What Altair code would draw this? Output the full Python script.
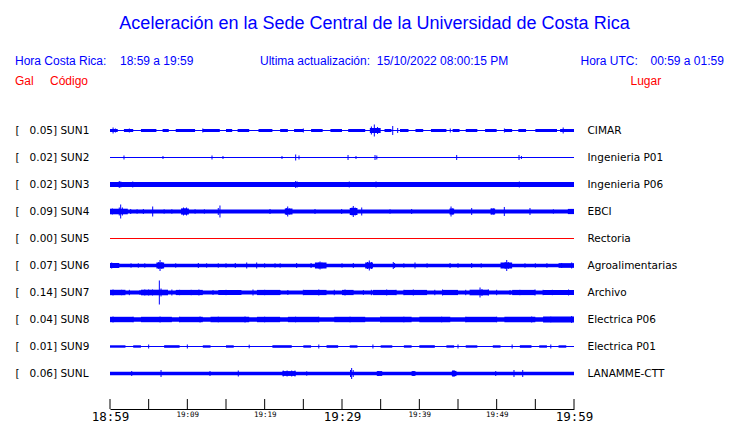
import json
import pandas as pd
import altair as alt

# ---------------- data ----------------
codes = ["SUN1", "SUN2", "SUN3", "SUN4", "SUN5", "SUN6", "SUN7", "SUN8", "SUN9", "SUNL"]
peak_gal = ["0.05", "0.02", "0.02", "0.09", "0.00", "0.07", "0.14", "0.04", "0.01", "0.06"]
places = ["CIMAR", "Ingenieria P01", "Ingenieria P06", "EBCI", "Rectoria",
          "Agroalimentarias", "Archivo", "Electrica P06", "Electrica P01", "LANAMME-CTT"]

# background half-amplitude of each trace (display units)
base_amp = [0.6, 0.5, 2.5, 2.0, 0.5, 1.7, 2.0, 2.3, 0.5, 1.7]

# bursts: [start minute, end minute, half-amplitude]
bursts_sun1 = [[0, 1.0, 1.5], [1.8, 3.0, 1.5], [4.0, 6.0, 1.5], [6.8, 7.6, 1.5], [8.5, 11.0, 1.5],
               [12.0, 14.2, 1.5], [15.0, 15.8, 1.5], [16.5, 18.0, 1.5], [19.2, 21.0, 1.5],
               [22.0, 23.0, 1.5], [23.8, 25.0, 1.5], [26.0, 27.5, 1.5], [28.5, 30.0, 1.5],
               [30.8, 33.0, 1.5], [33.6, 35.0, 2.5], [35.5, 36.4, 1.5], [37.5, 38.6, 1.5],
               [39.5, 40.5, 1.5], [41.5, 43.5, 1.5], [44.3, 45.2, 1.5], [46.0, 47.5, 1.5],
               [48.5, 50.0, 1.5], [51.0, 52.0, 1.5], [52.8, 53.8, 1.5], [55.0, 57.8, 1.5],
               [58.2, 60.0, 1.5]]
bursts_sun4 = [[0, 2.3, 2.8], [9.2, 10.2, 3.0], [22.6, 23.6, 3.0], [31.0, 32.0, 3.5],
               [43.9, 44.5, 3.0], [49.2, 49.8, 3.0], [59.2, 60.0, 2.6]]
bursts_sun6 = [[0, 1.2, 2.5], [6.0, 7.0, 3.0], [26.5, 28.0, 3.0], [33.0, 34.0, 3.0],
               [50.5, 52.0, 3.0], [58.0, 60.0, 2.3]]
bursts_sun7 = [[0, 2.0, 2.7], [4.0, 7.5, 2.8], [8.5, 12.0, 2.6], [14.0, 17.0, 2.6],
               [19.0, 22.0, 2.6], [25.0, 28.0, 2.6], [30.0, 31.5, 2.6], [34.0, 37.0, 2.6],
               [38.0, 41.0, 2.6], [43.0, 45.0, 2.6], [46.5, 49.0, 2.8], [52.0, 55.0, 2.6],
               [56.0, 60.0, 2.6]]
bursts_sun8 = [[0, 3.0, 2.7], [4.0, 8.0, 2.7], [9.0, 12.0, 2.7], [13.0, 18.0, 2.8],
               [19.0, 22.0, 2.7], [23.0, 27.0, 2.7], [29.0, 33.0, 2.7], [35.0, 39.0, 2.7],
               [40.0, 44.0, 2.7], [46.0, 50.0, 2.7], [51.0, 55.0, 2.7], [56.0, 60.0, 2.9]]
bursts_sun9 = [[0, 2.0, 1.2], [3.0, 4.0, 1.2], [7.0, 9.0, 1.3], [12.0, 13.0, 1.2],
               [15.0, 16.0, 1.2], [21.0, 23.5, 1.3], [25.0, 26.0, 1.2], [28.0, 29.5, 1.3],
               [31.0, 32.0, 1.2], [35.0, 36.5, 1.2], [38.0, 39.0, 1.2], [40.0, 42.0, 1.3],
               [43.5, 44.5, 1.2], [46.0, 47.5, 1.2], [49.5, 50.5, 1.2], [53.0, 54.5, 1.3],
               [55.5, 56.5, 1.2], [58.0, 59.0, 1.2]]
bursts_sunl = [[22.3, 24.0, 2.4], [34.5, 35.2, 2.4], [39.0, 39.5, 2.4], [44.2, 44.8, 2.6]]

# spikes: [minute, half-amplitude]
spikes_sun1 = [[0.4, 3.0], [0.7, 2.0], [2.5, 2.0], [12.0, 2.0], [25.0, 2.0], [33.8, 4.0],
               [34.18, 6.0], [34.6, 3.5], [36.56, 4.5], [37.2, 2.5], [44.0, 2.0], [51.0, 2.0],
               [58.6, 3.0]]
spikes_sun2 = [[1.81, 2.0], [6.85, 1.5], [13.19, 2.0], [14.61, 1.5], [22.24, 1.5], [24.01, 3.0],
               [24.44, 2.0], [30.78, 2.5], [31.81, 1.5], [34.27, 2.5], [34.5, 2.0], [44.83, 2.5],
               [52.89, 2.5], [53.2, 1.5]]
spikes_sun3 = [[1.2, 3.5], [1.4, 3.0], [2.94, 3.0], [24.01, 3.5], [24.2, 3.0], [30.94, 3.0],
               [34.4, 3.0], [52.93, 3.0]]
spikes_sun4 = [[0.3, 3.0], [1.2, 4.0], [1.38, 7.0], [1.6, 4.0], [2.68, 2.5], [3.5, 2.2],
               [4.31, 2.5], [5.52, 5.0], [7.0, 2.2], [8.0, 2.2], [9.3, 3.0], [9.5, 4.0],
               [9.7, 3.5], [9.9, 4.0], [11.0, 2.2], [12.2, 2.2], [14.0, 3.5], [14.22, 6.0],
               [20.69, 2.5], [22.8, 3.5], [22.98, 5.0], [23.2, 3.0], [26.51, 2.5], [29.96, 2.5],
               [31.3, 4.0], [31.46, 5.5], [31.7, 4.0], [32.55, 4.0], [36.21, 2.2], [39.01, 2.5],
               [44.1, 5.0], [44.3, 3.0], [46.77, 3.5], [49.36, 3.0], [49.6, 3.0], [50.99, 4.5],
               [54.31, 3.5], [57.33, 2.2], [59.7, 2.5]]
spikes_sun6 = [[0.22, 3.0], [1.0, 2.5], [2.72, 2.2], [3.66, 2.2], [4.5, 2.2], [6.3, 3.5],
               [6.47, 5.5], [6.7, 3.5], [8.5, 2.2], [11.42, 2.5], [12.5, 2.2], [14.0, 2.2],
               [15.0, 2.2], [16.2, 2.5], [17.68, 3.0], [18.97, 3.0], [20.0, 2.2], [21.34, 2.2],
               [22.0, 2.2], [24.14, 2.5], [26.0, 2.5], [27.0, 3.0], [27.16, 4.0], [27.4, 3.0],
               [30.0, 2.2], [31.46, 2.5], [33.3, 3.5], [33.53, 5.0], [33.8, 3.5], [36.63, 3.5],
               [36.8, 2.5], [38.0, 2.2], [39.44, 3.0], [41.0, 2.2], [43.97, 2.5], [45.0, 2.3],
               [46.77, 2.5], [48.0, 2.2], [51.1, 3.5], [51.3, 5.5], [51.5, 3.5], [53.66, 2.2],
               [55.0, 2.2], [56.5, 2.3], [58.41, 2.5], [59.7, 3.0]]
spikes_sun7 = [[0.39, 3.0], [1.5, 2.7], [2.5, 2.7], [3.88, 2.5], [4.5, 3.0], [5.0, 3.0],
               [5.5, 3.0], [6.38, 12.0], [6.6, 4.0], [8.0, 3.0], [9.0, 2.7], [10.5, 2.7],
               [11.5, 3.0], [13.32, 2.5], [15.0, 2.7], [16.55, 2.5], [18.49, 3.0], [20.0, 2.7],
               [21.98, 2.5], [23.0, 2.5], [25.0, 2.7], [27.0, 3.0], [29.0, 2.7], [30.39, 3.0],
               [32.76, 2.5], [33.8, 2.7], [35.78, 3.0], [37.0, 2.7], [38.0, 2.7], [39.22, 3.0],
               [40.73, 2.5], [42.0, 2.7], [43.0, 3.0], [44.83, 2.5], [46.0, 2.7], [47.85, 5.0],
               [48.1, 3.5], [48.92, 3.0], [50.0, 2.7], [51.73, 2.5], [53.0, 2.7], [54.96, 3.0],
               [56.0, 2.7], [57.2, 2.7], [58.19, 2.5], [59.3, 3.0]]
spikes_sun8 = [[0.39, 3.0], [3.0, 2.8], [6.47, 3.0], [9.0, 2.8], [11.64, 3.0], [14.0, 2.8],
               [17.46, 3.0], [20.0, 2.8], [24.0, 2.8], [27.0, 2.8], [31.04, 2.8], [35.0, 2.8],
               [38.0, 2.8], [42.89, 2.8], [46.0, 2.8], [50.0, 2.8], [54.53, 3.0], [57.0, 2.8],
               [59.7, 3.5]]
spikes_sun9 = [[5.0, 2.0], [10.0, 2.0], [18.0, 1.8], [27.0, 2.0], [34.0, 2.0], [45.0, 2.0],
               [52.0, 2.0], [57.0, 2.0]]
spikes_sunl = [[2.81, 2.5], [6.6, 3.5], [12.93, 2.5], [16.59, 3.0], [22.4, 3.0], [22.9, 3.0],
               [23.5, 3.0], [23.92, 3.0], [25.44, 2.2], [31.1, 3.5], [31.25, 5.5], [31.45, 3.5],
               [34.69, 2.5], [39.22, 2.5], [44.3, 3.0], [44.48, 3.5], [49.88, 2.5], [52.24, 3.5],
               [53.37, 3.5]]

bursts_by_code = {"SUN1": bursts_sun1, "SUN4": bursts_sun4, "SUN6": bursts_sun6,
                  "SUN7": bursts_sun7, "SUN8": bursts_sun8, "SUN9": bursts_sun9,
                  "SUNL": bursts_sunl}
spikes_by_code = {"SUN1": spikes_sun1, "SUN2": spikes_sun2, "SUN3": spikes_sun3,
                  "SUN4": spikes_sun4, "SUN6": spikes_sun6, "SUN7": spikes_sun7,
                  "SUN8": spikes_sun8, "SUN9": spikes_sun9, "SUNL": spikes_sunl}

tick_minutes = [0, 5, 10, 15, 20, 25, 30, 35, 40, 45, 50, 55, 60]
label_minutes = [0, 10, 20, 30, 40, 50, 60]
time_labels = ["18:59", "19:09", "19:19", "19:29", "19:39", "19:49", "19:59"]

# ---------------- tables ----------------
GAIN = 1.0 / 27.0   # display units -> row units
BLUE = "#0000ff"
RED = "#ff0000"


def trace_color(code):
    return RED if peak_gal[codes.index(code)] == "0.00" else BLUE


bands = pd.DataFrame({
    "i": list(range(len(codes))),
    "t0": 0.0, "t1": 60.0,
    "lo": [i - a * GAIN for i, a in enumerate(base_amp)],
    "hi": [i + a * GAIN for i, a in enumerate(base_amp)],
    "color": [trace_color(c) for c in codes],
})

burst_rows = []
for code, lst in bursts_by_code.items():
    i = codes.index(code)
    for t0, t1, a in lst:
        burst_rows.append({"t0": t0, "t1": t1, "lo": i - a * GAIN, "hi": i + a * GAIN,
                           "color": trace_color(code)})
bursts = pd.DataFrame(burst_rows)

spike_rows = []
for code, lst in spikes_by_code.items():
    i = codes.index(code)
    for t, a in lst:
        spike_rows.append({"t": t, "lo": i - a * GAIN, "hi": i + a * GAIN,
                           "color": trace_color(code)})
spikes = pd.DataFrame(spike_rows)

ticks = pd.DataFrame({"t": tick_minutes})

NB = "\u00a0"
left_labels = ["[" + NB * 3 + g + "] " + c for g, c in zip(peak_gal, codes)]

# ---------------- layout ----------------
W, H = 464, 309
xs = alt.Scale(domain=[0, 60], nice=False, zero=False)
ys = alt.Scale(domain=[-1.1296, 10.3148], nice=False, zero=False, reverse=True)

left_axis = alt.Axis(orient="left", values=list(range(10)),
                     labelExpr=json.dumps(left_labels) + "[datum.value]",
                     domain=False, ticks=False, tickSize=0, grid=False,
                     labelAlign="left", labelPadding=95, labelFont="DejaVu Sans",
                     labelFontSize=10.5, labelColor="black", title=None,
                     labelOverlap=False, labelFlush=False, labelBaseline="middle")
right_axis = alt.Axis(orient="right", values=list(range(10)),
                      labelExpr=json.dumps(places) + "[datum.value]",
                      domain=False, ticks=False, tickSize=0, grid=False,
                      labelAlign="left", labelPadding=13, labelFont="DejaVu Sans",
                      labelFontSize=10.5, labelColor="black", title=None,
                      labelOverlap=False, labelFlush=False, labelBaseline="middle")
lab_map = {str(m): s for m, s in zip(label_minutes, time_labels)}
x_axis = alt.Axis(orient="bottom", values=label_minutes,
                  labelExpr=json.dumps(lab_map) + "[''+datum.value]",
                  ticks=False, grid=False, domain=True, domainColor="black", domainWidth=1,
                  labelPadding=1, labelFont="DejaVu Sans Mono",
                  labelFontSize={"condition": {"test": "datum.value % 30 == 0", "value": 12.5},
                                 "value": 7.5},
                  labelColor="black", title=None, labelFlush=False, labelOverlap=False)

band_layer = alt.Chart(bands).mark_rect().encode(
    x=alt.X("t0:Q", scale=xs, axis=x_axis), x2="t1",
    y=alt.Y("lo:Q", scale=ys, axis=left_axis), y2="hi",
    color=alt.Color("color:N", scale=None),
)
burst_layer = alt.Chart(bursts).mark_rect().encode(
    x=alt.X("t0:Q", scale=xs, axis=None), x2="t1",
    y=alt.Y("lo:Q", scale=ys, axis=None), y2="hi",
    color=alt.Color("color:N", scale=None),
)
spike_layer = alt.Chart(spikes).mark_rule(strokeWidth=1).encode(
    x=alt.X("t:Q", scale=xs, axis=None),
    y=alt.Y("lo:Q", scale=ys, axis=right_axis), y2="hi",
    color=alt.Color("color:N", scale=None),
)
tick_layer = alt.Chart(ticks).mark_rule(color="black", strokeWidth=1).encode(
    x=alt.X("t:Q", scale=xs, axis=None),
    y=alt.value(H - 10), y2=alt.value(H),
)

one = pd.DataFrame({"k": [0]})


def label(text, x, y, color, size, align="left"):
    return alt.Chart(one).mark_text(
        align=align, baseline="alphabetic", font="Liberation Sans", fontSize=size, color=color
    ).encode(x=alt.value(x), y=alt.value(y), text=alt.value(text))


texts = [
    label("Aceleración en la Sede Central de la Universidad de Costa Rica", 264.5, -70.7, BLUE, 18, "center"),
    label("Hora Costa Rica:", -95, -35, BLUE, 12),
    label("18:59 a 19:59", 10, -35, BLUE, 12),
    label("Ultima actualización:" + NB + NB + "15/10/2022 08:00:15 PM", 150, -35, BLUE, 12),
    label("Hora UTC:", 470.5, -35, BLUE, 12),
    label("00:59 a 01:59", 540.5, -35, BLUE, 12),
    label("Gal", -95, -15, RED, 12),
    label("Código", -60, -15, RED, 12),
    label("Lugar", 520.5, -15, RED, 12),
]

chart = alt.layer(band_layer, burst_layer, spike_layer, tick_layer, *texts).resolve_axis(
    x="independent", y="independent"
).properties(
    width=W, height=H,
    autosize=alt.AutoSizeParams(type="none"),
    padding={"left": 102, "top": 92, "right": 150, "bottom": 24},
    background="white",
).configure_view(stroke=None)

chart.save("out.html", embed_options={"renderer": "svg", "actions": False})
